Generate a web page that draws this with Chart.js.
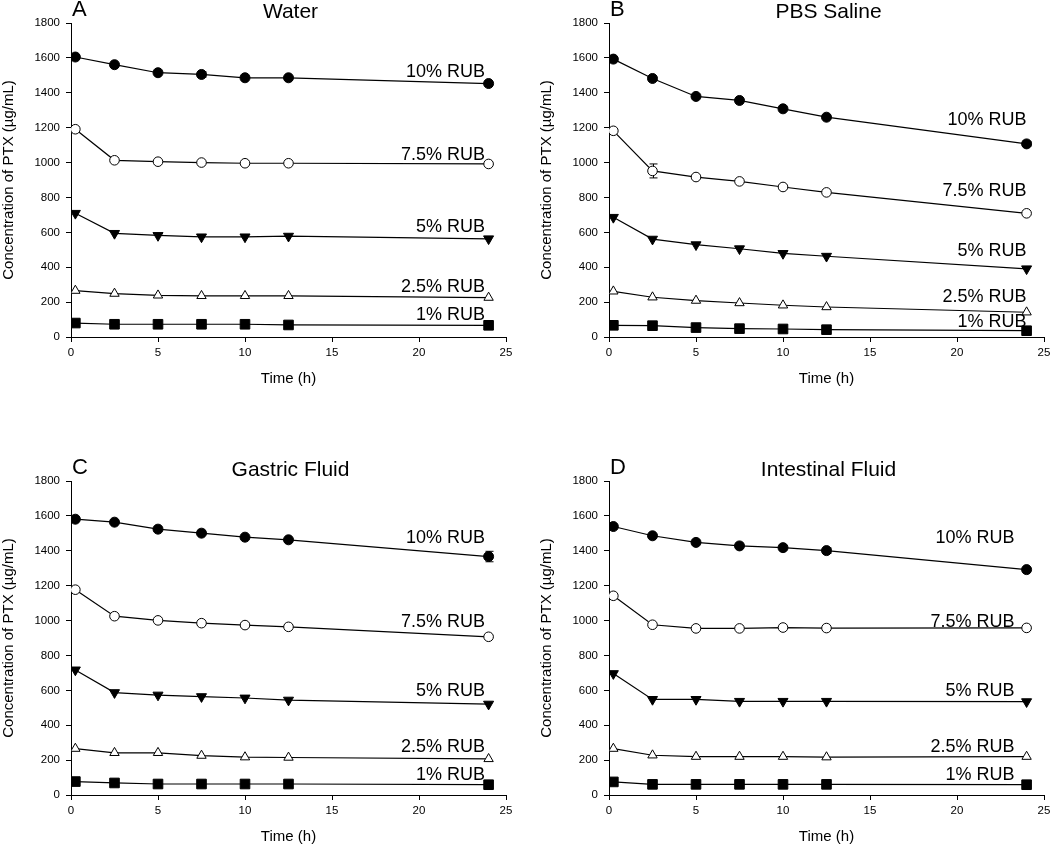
<!DOCTYPE html>
<html>
<head>
<meta charset="utf-8">
<script src="https://cdn.jsdelivr.net/npm/chart.js@4.4.1/dist/chart.umd.min.js"></script>
<style>
  body { margin: 0; background: #fff; width: 1050px; height: 850px; position: relative; overflow: hidden; }
  .panel { position: absolute; width: 525px; height: 400px; }
</style>
</head>
<body>
<div class="panel" style="left:0;top:0"><canvas id="chartA" width="525" height="400"></canvas></div>
<div class="panel" style="left:538px;top:0"><canvas id="chartB" width="525" height="400"></canvas></div>
<div class="panel" style="left:0;top:458px"><canvas id="chartC" width="525" height="400"></canvas></div>
<div class="panel" style="left:538px;top:458px"><canvas id="chartD" width="525" height="400"></canvas></div>
<script>
const hours = [0.25, 2.5, 5, 7.5, 10, 12.5, 24];
const seriesNames = ['10% RUB', '7.5% RUB', '5% RUB', '2.5% RUB', '1% RUB'];

// A - Water
const waterRub10 = [1605, 1561, 1515, 1505, 1486, 1486, 1453];
const waterRub75 = [1191, 1013, 1005, 1000, 996, 996, 992];
const waterRub5 = [709, 594, 582, 574, 574, 578, 563];
const waterRub25 = [266, 249, 239, 236, 236, 236, 226];
const waterRub1 = [80, 73, 73, 73, 73, 69, 67];

// B - PBS Saline
const pbsRub10 = [1593, 1482, 1379, 1356, 1308, 1260, 1107];
const pbsRub75 = [1182, 952, 917, 892, 860, 829, 709];
const pbsRub5 = [686, 561, 529, 506, 479, 463, 391];
const pbsRub25 = [262, 228, 209, 195, 182, 172, 142];
const pbsRub1 = [67, 65, 54, 48, 46, 42, 36];

// C - Gastric Fluid
const gastricRub10 = [1581, 1564, 1524, 1501, 1478, 1463, 1367];
const gastricRub75 = [1177, 1025, 1001, 985, 974, 964, 907];
const gastricRub5 = [717, 587, 573, 564, 556, 544, 521];
const gastricRub25 = [266, 242, 242, 226, 217, 215, 207];
const gastricRub1 = [77, 69, 63, 63, 63, 63, 59];

// D - Intestinal Fluid
const intestinalRub10 = [1539, 1486, 1448, 1428, 1418, 1401, 1292];
const intestinalRub75 = [1142, 976, 955, 955, 960, 957, 958];
const intestinalRub5 = [696, 548, 548, 537, 537, 537, 535];
const intestinalRub25 = [266, 228, 220, 220, 220, 217, 220];
const intestinalRub1 = [75, 61, 61, 61, 61, 61, 59];

// error bars (+/-), only the ones that show outside the markers
const waterRub10Err = [0, 0, 0, 15, 0, 0, 0];
const pbsRub10Err = [0, 0, 0, 0, 0, 0, 12];
const pbsRub75Err = [0, 40, 0, 0, 0, 0, 0];
const gastricRub10Err = [0, 0, 0, 0, 0, 0, 30];
const intestinalRub10Err = [0, 0, 0, 0, 12, 15, 0];

const FONT = "'Liberation Sans', Arial, sans-serif";

// marker look per series (10%, 7.5%, 5%, 2.5%, 1%)
const markers = [
  { pointStyle: 'circle', radius: 5, fill: '#000', rotation: 0 },
  { pointStyle: 'circle', radius: 4.8, fill: '#fff', rotation: 0 },
  { pointStyle: 'triangle', radius: 5.8, fill: '#000', rotation: 180 },
  { pointStyle: 'triangle', radius: 5.4, fill: '#fff', rotation: 0 },
  { pointStyle: 'rect', radius: 6.8, fill: '#000', rotation: 0 }
];

const panels = [
  { id: 'chartA', letter: 'A', title: 'Water',
    series: [waterRub10, waterRub75, waterRub5, waterRub25, waterRub1],
    errors: [waterRub10Err, null, null, null, null],
    labelX: 23.8, labelY: [1490, 1015, 600, 260, 97] },
  { id: 'chartB', letter: 'B', title: 'PBS Saline',
    series: [pbsRub10, pbsRub75, pbsRub5, pbsRub25, pbsRub1],
    errors: [pbsRub10Err, pbsRub75Err, null, null, null],
    labelX: 24.0, labelY: [1217, 811, 467, 202, 55] },
  { id: 'chartC', letter: 'C', title: 'Gastric Fluid',
    series: [gastricRub10, gastricRub75, gastricRub5, gastricRub25, gastricRub1],
    errors: [gastricRub10Err, null, null, null, null],
    labelX: 23.8, labelY: [1443, 963, 565, 245, 88] },
  { id: 'chartD', letter: 'D', title: 'Intestinal Fluid',
    series: [intestinalRub10, intestinalRub75, intestinalRub5, intestinalRub25, intestinalRub1],
    errors: [intestinalRub10Err, null, null, null, null],
    labelX: 23.3, labelY: [1443, 963, 565, 245, 88] }
];

// panel letter, title, series labels and error bars
const decorPlugin = {
  id: 'decor',
  beforeDatasetsDraw(chart) {
    const ctx = chart.ctx;
    const x = chart.scales.x, y = chart.scales.y;
    ctx.save();
    ctx.strokeStyle = '#000';
    ctx.lineWidth = 1;
    chart.data.datasets.forEach(ds => {
      if (!ds.errors) return;
      ds.data.forEach((pt, i) => {
        const e = ds.errors[i];
        if (!e) return;
        const px = Math.round(x.getPixelForValue(pt.x)) + 0.5;
        const top = y.getPixelForValue(pt.y + e);
        const bot = y.getPixelForValue(pt.y - e);
        ctx.beginPath();
        ctx.moveTo(px, top); ctx.lineTo(px, bot);
        ctx.moveTo(px - 4, top); ctx.lineTo(px + 4, top);
        ctx.moveTo(px - 4, bot); ctx.lineTo(px + 4, bot);
        ctx.stroke();
      });
    });
    ctx.restore();
  },
  afterDraw(chart) {
    const ctx = chart.ctx;
    const area = chart.chartArea;
    const x = chart.scales.x, y = chart.scales.y;
    const p = chart.options.plugins.decor;
    ctx.save();
    ctx.fillStyle = '#000';
    ctx.textBaseline = 'middle';
    ctx.font = '22px ' + FONT;
    ctx.textAlign = 'left';
    ctx.fillText(p.letter, area.left + 1, area.top - 13);
    ctx.font = '21px ' + FONT;
    ctx.textAlign = 'center';
    ctx.fillText(p.title, (area.left + area.right) / 2 + 2, area.top - 11);
    ctx.font = '18px ' + FONT;
    ctx.textAlign = 'right';
    ctx.textBaseline = 'alphabetic';
    seriesNames.forEach((name, i) => {
      ctx.fillText(name, x.getPixelForValue(p.labelX), y.getPixelForValue(p.labelY[i]));
    });
    ctx.restore();
  }
};

panels.forEach(panel => {
  const datasets = panel.series.map((values, i) => ({
    label: seriesNames[i],
    data: hours.map((h, j) => ({ x: h, y: values[j] })),
    errors: panel.errors[i],
    borderColor: '#000',
    borderWidth: 1.2,
    pointStyle: markers[i].pointStyle,
    pointRadius: markers[i].radius,
    pointRotation: markers[i].rotation,
    pointBackgroundColor: markers[i].fill,
    pointBorderColor: '#000',
    pointBorderWidth: 1,
    tension: 0,
    fill: false
  }));

  new Chart(document.getElementById(panel.id), {
    type: 'line',
    data: { datasets: datasets },
    options: {
      responsive: false,
      animation: false,
      events: [],
      layout: { padding: { top: 23, right: 19, left: 0, bottom: 0 } },
      plugins: {
        legend: { display: false },
        tooltip: { enabled: false },
        decor: { letter: panel.letter, title: panel.title, labelX: panel.labelX, labelY: panel.labelY }
      },
      scales: {
        x: {
          type: 'linear',
          min: 0, max: 25,
          ticks: { stepSize: 5, color: '#000', padding: 4, format: { useGrouping: false }, font: { family: FONT, size: 11.5 } },
          grid: { display: true, drawOnChartArea: false, drawTicks: true, tickLength: 5, color: '#000' },
          border: { display: true, color: '#000', width: 1 },
          title: { display: true, text: 'Time (h)', color: '#000', font: { family: FONT, size: 15 }, padding: { top: 0, bottom: 12 } },
          afterFit(scale) { scale.height = 63; }
        },
        y: {
          type: 'linear',
          min: 0, max: 1800,
          ticks: { stepSize: 200, color: '#000', padding: 6, format: { useGrouping: false }, font: { family: FONT, size: 11.5 } },
          grid: { display: true, drawOnChartArea: false, drawTicks: true, tickLength: 5, color: '#000' },
          border: { display: true, color: '#000', width: 1 },
          title: { display: true, text: 'Concentration of PTX (µg/mL)', color: '#000', font: { family: FONT, size: 15 }, padding: { top: 0, bottom: 0 } },
          afterFit(scale) { scale.width = 71; }
        }
      }
    },
    plugins: [decorPlugin]
  });
});
</script>
</body>
</html>
